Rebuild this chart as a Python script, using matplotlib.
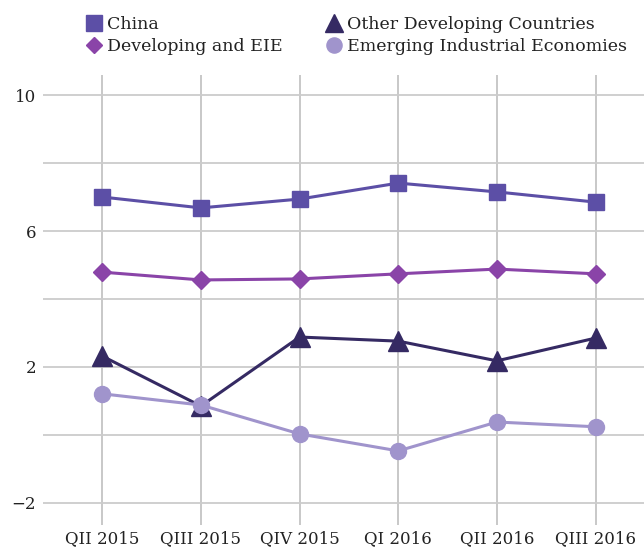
import matplotlib
matplotlib.use("Agg")
import matplotlib.pyplot as plt
from matplotlib.ticker import FixedLocator
from matplotlib.lines import Line2D

quarters = ["QII 2015", "QIII 2015", "QIV 2015", "QI 2016", "QII 2016", "QIII 2016"]
china = [7.0, 6.68, 6.94, 7.41, 7.15, 6.85]
developing_eie = [4.79, 4.56, 4.59, 4.74, 4.88, 4.74]
other_developing = [2.32, 0.85, 2.88, 2.76, 2.18, 2.85]
emerging_industrial = [1.21, 0.88, 0.03, -0.47, 0.38, 0.24]

plt.rcParams["font.family"] = ["DejaVu Serif"]

fig = plt.figure(figsize=(6.44, 5.5), dpi=100)
ax = fig.add_axes([43/644, 25/550, 1 - 43/644, (525 - 75)/550])

series = [
    ("China", china, "#5c4fa6", "s", 11.5, 3),
    ("Developing and EIE", developing_eie, "#8a44a8", "D", 9, 3),
    ("Other Developing Countries", other_developing, "#352a63", "^", 14, 3),
    ("Emerging Industrial Economies", emerging_industrial, "#a094cc", "o", 11.5, 4),
]

x = list(range(len(quarters)))
handles = []
for name, vals, col, mk, ms, z in series:
    ax.plot(x, vals, color=col, lw=2.2, marker=mk, ms=ms, zorder=z)
    handles.append(Line2D([], [], color=col, lw=0, marker=mk, ms=ms * 0.95, label=name))

ax.set_xlim(-0.6, 5.49)
ax.set_ylim(-2.65, 10.59)
ax.set_xticks(x)
ax.set_xticklabels(quarters)
ax.yaxis.set_major_locator(FixedLocator([-2, 2, 6, 10]))
ax.yaxis.set_minor_locator(FixedLocator([0, 4, 8]))
ax.grid(True, which="both", axis="y", color="#cccccc", lw=1.3)
ax.grid(True, which="major", axis="x", color="#c4c4c4", lw=1.3)
ax.tick_params(axis="both", which="both", length=0, labelsize=12, colors="#222222")
ax.tick_params(axis="y", pad=5)
ax.tick_params(axis="x", pad=4)
for s in ax.spines.values():
    s.set_visible(False)
ax.set_axisbelow(True)

fig.legend(handles=handles, loc="upper left", bbox_to_anchor=(86/644, 1 - 16/550), ncol=2, frameon=False,
           fontsize=12.5, handlelength=0.9, handletextpad=0.3, columnspacing=2.5,
           labelspacing=0.3, borderaxespad=0, borderpad=0, labelcolor="#222222")

fig.savefig("out.png", dpi=100, facecolor="white")
